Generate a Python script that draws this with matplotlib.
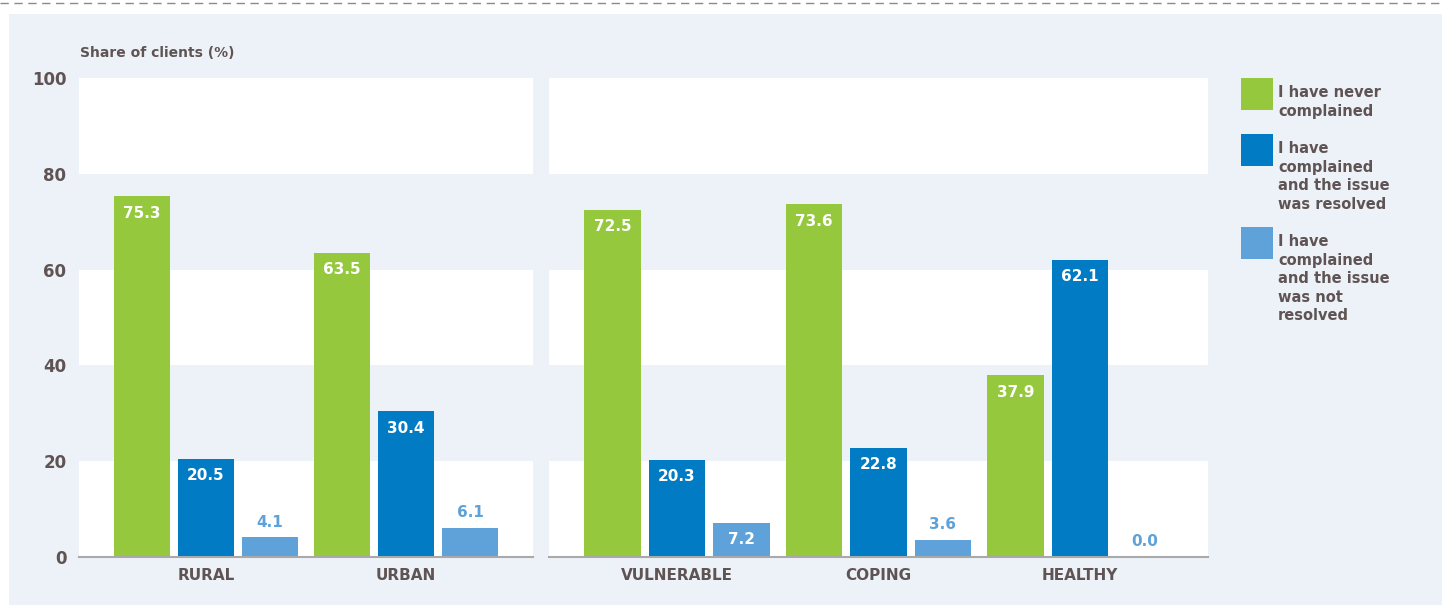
import matplotlib
matplotlib.use("Agg")
import matplotlib.pyplot as plt
from matplotlib.patches import Rectangle
from matplotlib.lines import Line2D
import numpy as np

# ---- data ----
groups_left = ["RURAL", "URBAN"]
groups_right = ["VULNERABLE", "COPING", "HEALTHY"]
never_left = [75.3, 63.5]
resolved_left = [20.5, 30.4]
notresolved_left = [4.1, 6.1]
never_right = [72.5, 73.6, 37.9]
resolved_right = [20.3, 22.8, 62.1]
notresolved_right = [7.2, 3.6, 0.0]
series_labels = ["I have never\ncomplained",
                 "I have\ncomplained\nand the issue\nwas resolved",
                 "I have\ncomplained\nand the issue\nwas not\nresolved"]
yticks = [0, 20, 40, 60, 80, 100]
ylabel = "Share of clients (%)"

# ---- style ----
W, H = 1442, 605
BG = "#edf2f9"
TXT = "#5f5453"
COLORS = ["#95c83d", "#007bc4", "#5fa2d9"]
FONT = "DejaVu Sans"

fig = plt.figure(figsize=(W / 100, H / 100), dpi=100)
fig.patch.set_facecolor("white")

def fx(px):
    return px / W

def fy(py):
    return 1 - py / H

# background panel
fig.patches.append(Rectangle((fx(9), 0), 1 - fx(9), fy(14), transform=fig.transFigure,
                             facecolor=BG, edgecolor="none", zorder=-10))
# dashed line at top
fig.lines.append(Line2D([0, 1], [fy(3), fy(3)], transform=fig.transFigure,
                        color="#8a8a8a", lw=1, linestyle=(0, (6, 4)), zorder=-10))

y_top, y_bot = 78, 557
bar_w = 0.28
step = 0.32

def make_panel(x0, x1, cats, vals_list, show_y):
    ax = fig.add_axes([fx(x0), fy(y_bot), fx(x1) - fx(x0), fy(y_top) - fy(y_bot)])
    ax.set_facecolor(BG)
    n = len(cats)
    ax.set_xlim(-0.635, n - 1 + 0.635)
    ax.set_ylim(0, 100)
    # white bands
    for lo, hi in [(0, 20), (40, 60), (80, 100)]:
        ax.axhspan(lo, hi, color="white", zorder=0, lw=0)
    x = np.arange(n)
    for si, vals in enumerate(vals_list):
        xs = x + (si - 1) * step
        ax.bar(xs, vals, width=bar_w, color=COLORS[si], zorder=2, linewidth=0)
        for xi, v in zip(xs, vals):
            if v > 7:
                ax.text(xi, v - 2.0, f"{v:.1f}", ha="center", va="top", color="white",
                        fontsize=11, fontweight="bold", family=FONT, zorder=3)
            else:
                ax.text(xi, v + 1.6, f"{v:.1f}", ha="center", va="bottom", color=COLORS[si],
                        fontsize=11, fontweight="bold", family=FONT, zorder=3)
    for s in ["top", "right", "left"]:
        ax.spines[s].set_visible(False)
    ax.spines["bottom"].set_color("#a9a9a9")
    ax.spines["bottom"].set_linewidth(1.5)
    ax.spines["bottom"].set_zorder(4)
    ax.set_xticks(x)
    ax.set_xticklabels(cats, fontsize=11, fontweight="bold", color=TXT, family=FONT)
    ax.tick_params(axis="x", length=0, pad=8)
    ax.set_yticks(yticks)
    if show_y:
        ax.set_yticklabels([str(t) for t in yticks], fontsize=12, fontweight="bold",
                           color=TXT, family=FONT)
        ax.tick_params(axis="y", length=0, pad=9)
    else:
        ax.set_yticklabels([])
        ax.tick_params(axis="y", length=0)
    return ax

make_panel(79, 533, groups_left, [never_left, resolved_left, notresolved_left], True)
make_panel(549, 1208, groups_right, [never_right, resolved_right, notresolved_right], False)

fig.text(fx(80), fy(53), ylabel, ha="left", va="center", fontsize=10, fontweight="bold",
         color=TXT, family=FONT)

# legend
sq_tops = [78, 134, 227]
for c, lab, t in zip(COLORS, series_labels, sq_tops):
    fig.patches.append(Rectangle((fx(1241), fy(t + 32)), fx(32), fy(t) - fy(t + 32),
                                 transform=fig.transFigure, facecolor=c, edgecolor="none"))
    fig.text(fx(1278), fy(t + 7), lab, ha="left", va="top", fontsize=10.5, fontweight="bold",
             color=TXT, family=FONT, linespacing=1.3)

fig.savefig("out.png", dpi=100, facecolor=fig.get_facecolor())
